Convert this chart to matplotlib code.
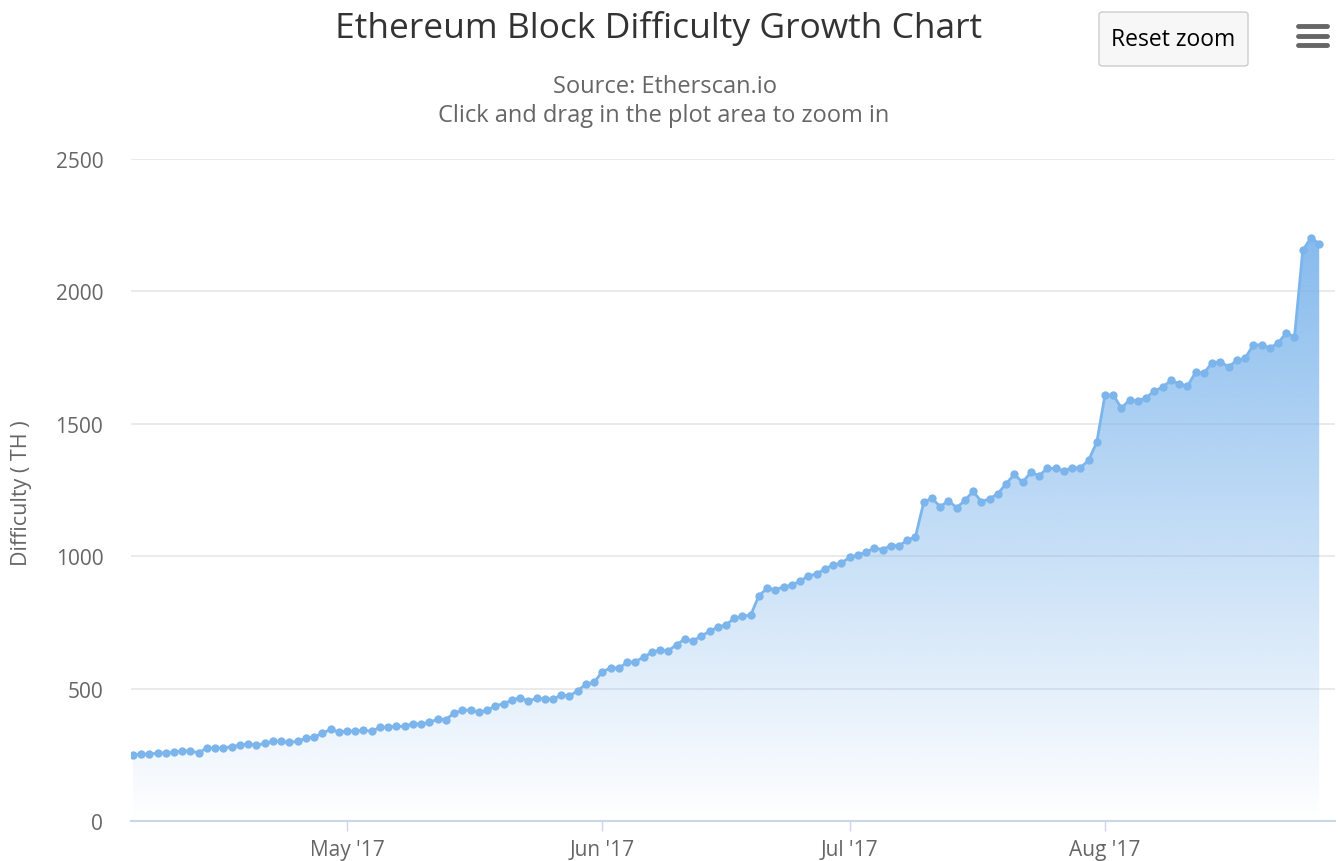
import matplotlib
matplotlib.use("Agg")
import matplotlib.pyplot as plt
import matplotlib.dates as mdates
from matplotlib.patches import FancyBboxPatch
from matplotlib.lines import Line2D
import numpy as np
import pandas as pd

plt.rcParams['font.family'] = ['Open Sans', 'DejaVu Sans']

start_date = "2017-04-05"
difficulty = [
    250, 252, 253, 256, 257, 259, 264, 264, 258, 276, 276, 276, 281, 286, 291, 286,
    293, 301, 301, 297, 301, 312, 317, 331, 346, 336, 340, 339, 343, 339, 354,
    354, 358, 358, 367, 366, 373, 384, 383, 408, 418, 419, 411, 418, 435, 443,
    456, 466, 453, 463, 461, 460, 476, 472, 492, 517, 524, 564, 578, 578, 599,
    602, 619, 637, 646, 643, 666, 687, 680, 699, 716, 732, 740, 766, 773, 778,
    851, 879, 874, 884, 891, 906, 926, 933, 952, 967,
    974, 996, 1005, 1015, 1031, 1025, 1040, 1040, 1060, 1074, 1204, 1219, 1187,
    1210, 1183, 1211, 1245, 1206, 1217, 1236, 1274, 1309, 1279, 1317, 1304, 1332,
    1332, 1323, 1334, 1334, 1362, 1430,
    1609, 1609, 1559, 1591, 1586, 1599, 1624, 1639, 1664, 1652, 1642, 1695, 1692,
    1730, 1735, 1715, 1740, 1747, 1798, 1798, 1787, 1805, 1843, 1828, 2155, 2203, 2180,
]
dates = pd.date_range(start_date, periods=len(difficulty), freq="D")
y_ticks = [0, 500, 1000, 1500, 2000, 2500]

title = "Ethereum Block Difficulty Growth Chart"
subtitle1 = "Source: Etherscan.io"
subtitle2 = "Click and drag in the plot area to zoom in"
ylabel = "Difficulty ( TH )"

W, H = 1338, 862
fig = plt.figure(figsize=(W / 100, H / 100), dpi=100)
fig.patch.set_facecolor("white")
ax = fig.add_axes([131 / W, (H - 822) / H, (1335 - 131) / W, (822 - 160) / H])

x = mdates.date2num(dates)
y = np.array(difficulty, dtype=float)
line_color = "#7cb5ec"

xmin = mdates.date2num(pd.Timestamp("2017-05-01")) - (347 - 131) / 8.239
xmax = mdates.date2num(pd.Timestamp("2017-08-01")) + (1335 - 1105) / 8.239

poly = ax.fill_between(x, 0, y, facecolor="none", edgecolor="none", zorder=1)
grad = np.zeros((256, 1, 4))
rgb = matplotlib.colors.to_rgb(line_color)
grad[:, 0, 0] = rgb[0]
grad[:, 0, 1] = rgb[1]
grad[:, 0, 2] = rgb[2]
grad[:, 0, 3] = np.linspace(0.0, 0.92, 256)
im = ax.imshow(grad, extent=[x.min(), x.max(), 0, y.max()], origin="lower",
               aspect="auto", zorder=1, interpolation="bilinear")
path = poly.get_paths()[0]
im.set_clip_path(path, transform=ax.transData)

ax.plot(x, y, color=line_color, lw=2, marker="o", markersize=6,
        markeredgewidth=0, zorder=3)

ax.set_xlim(xmin, xmax)
ax.set_ylim(0, 2500)

ax.xaxis.set_major_locator(mdates.MonthLocator())
ax.xaxis.set_major_formatter(mdates.DateFormatter("%b '%y"))
ax.set_yticks(y_ticks)
ax.yaxis.grid(True, color="#e6e6e6", lw=1.2, zorder=0)
ax.set_axisbelow(True)
for s in ["top", "right", "left"]:
    ax.spines[s].set_visible(False)
ax.spines["bottom"].set_color("#ccd6eb")
ax.spines["bottom"].set_linewidth(1.5)
ax.spines["bottom"].set_zorder(4)
ax.tick_params(axis="x", length=7.2, width=1, color="#ccd6eb", pad=6,
               labelsize=15, labelcolor="#666666")
ax.tick_params(axis="y", length=0, pad=20, labelsize=15, labelcolor="#666666")
ax.set_facecolor("white")

fig.text(22 / W, 1 - 493 / H, ylabel, rotation=90, ha="center", va="center",
         fontsize=15.5, color="#666666")

fig.text(659 / W, 1 - 29 / H, title, ha="center", va="center", fontsize=25.5,
         color="#333333")
fig.text(665 / W, 1 - 87 / H, subtitle1, ha="center", va="center", fontsize=17,
         color="#666666")
fig.text(664 / W, 1 - 116 / H, subtitle2, ha="center", va="center", fontsize=17,
         color="#666666")

btn = FancyBboxPatch((1099 / W, 1 - 67 / H), (1248 - 1099) / W, (67 - 13) / H,
                     boxstyle="round,pad=0,rounding_size=0.003",
                     transform=fig.transFigure, facecolor="#f7f7f7",
                     edgecolor="#cccccc", lw=1)
fig.patches.append(btn)
fig.text(1173 / W, 1 - 40 / H, "Reset zoom", ha="center", va="center",
         fontsize=16.5, color="#000000")

for yy in [27, 37, 46]:
    fig.add_artist(Line2D([1298 / W, 1327 / W], [1 - yy / H, 1 - yy / H],
                          transform=fig.transFigure, color="#666666", lw=3.5,
                          solid_capstyle="round"))

fig.savefig("out.png", dpi=100)
